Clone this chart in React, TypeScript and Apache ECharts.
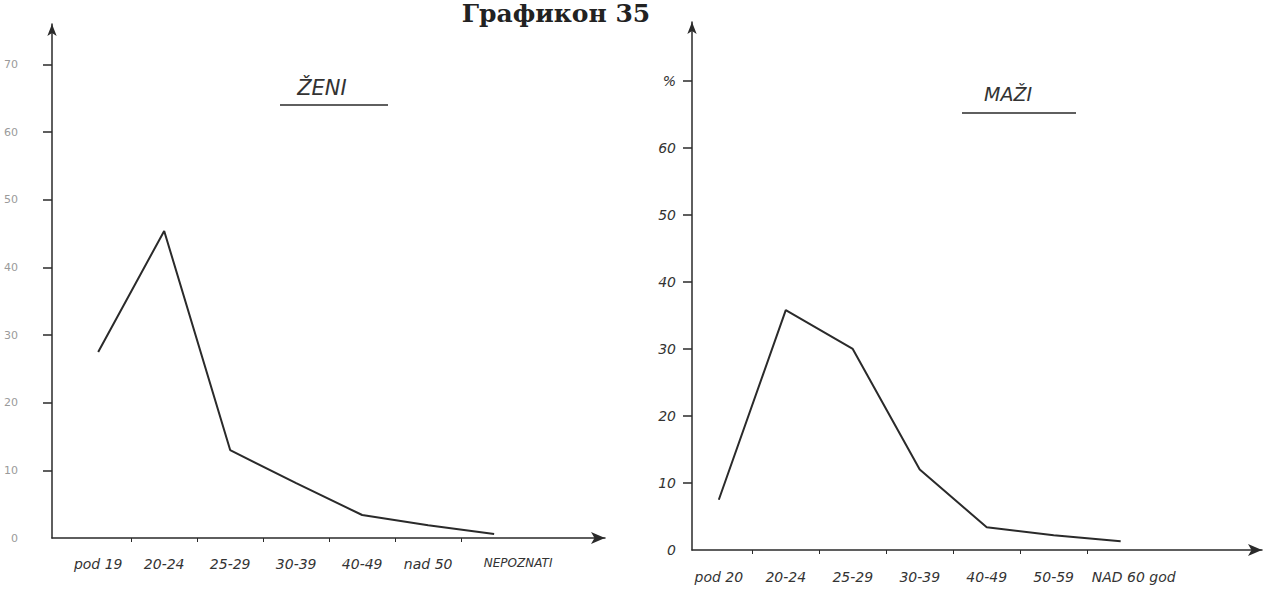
import React, { useEffect, useRef } from "react";
import * as echarts from "echarts";

const womenCategories = ["pod 19", "20-24", "25-29", "30-39", "40-49", "nad 50", "NEPOZNATI"];
const womenValues = [27.5, 45.4, 13.0, 8.1, 3.4, 1.9, 0.6];

const menCategories = ["pod 20", "20-24", "25-29", "30-39", "40-49", "50-59", "NAD 60 god"];
const menValues = [7.5, 35.8, 30.0, 12.0, 3.4, 2.2, 1.3];

const womenYTicks = [10, 20, 30, 40, 50, 60, 70];
const womenYLabels = [0, 10, 20, 30, 40, 50, 60, 70];
const menYTicks = [10, 20, 30, 40, 50, 60, 70];
const menYLabels = [0, 10, 20, 30, 40, 50, 60, 70];
const menUnitLabel = "%";

const chartTitle = "Графикон 35";
const womenTitle = "ŽENI";
const menTitle = "MAŽI";

const ink = "#2a2a2a";
const hand = "'DejaVu Sans', sans-serif";

export default function App() {
  const ref = useRef<HTMLDivElement>(null);

  useEffect(() => {
    if (!ref.current) return;
    const chart = echarts.init(ref.current, undefined, { renderer: "svg" });
    const idx = (arr: string[]) => arr.map((_, i) => i);
    const mids = (arr: string[]) => arr.slice(0, -1).map((_, i) => i + 0.5);

    const xAxisBase = (
      gridIndex: number,
      min: number,
      max: number,
      cats: string[],
      margin: number,
      lastSize: number,
      lastPad: number
    ) => ({
      type: "value",
      gridIndex,
      min,
      max,
      splitLine: { show: false },
      axisLine: {
        onZero: false,
        symbol: ["none", "arrow"],
        symbolSize: [9, 14],
        lineStyle: { color: ink, width: 1.5 },
      },
      axisTick: { show: true, customValues: mids(cats), length: 4, lineStyle: { color: ink } },
      axisLabel: {
        customValues: idx(cats),
        formatter: (v: number) => {
          const i = Math.round(v);
          const t = cats[i] ?? "";
          return i === cats.length - 1 ? `{last|${t}}` : t;
        },
        margin,
        fontStyle: "italic",
        fontSize: 14,
        color: "#333",
        fontFamily: hand,
        hideOverlap: false,
        rich: {
          last: {
            fontSize: lastSize,
            fontStyle: "italic",
            color: "#333",
            fontFamily: hand,
            padding: [0, 0, 0, lastPad],
          },
        },
      },
    });

    const option: any = {
      animation: false,
      backgroundColor: "#ffffff",
      textStyle: { fontFamily: hand },
      grid: [
        { left: 52, top: 24, width: 553, height: 514 },
        { left: 692, top: 22, width: 570, height: 528 },
      ],
      xAxis: [
        xAxisBase(0, -0.7, 7.68, womenCategories, 19, 12, 48),
        xAxisBase(1, -0.4, 8.11, menCategories, 20, 14, 26),
      ],
      yAxis: [
        {
          type: "value",
          gridIndex: 0,
          min: 0,
          max: 76,
          splitLine: { show: false },
          axisLine: {
            onZero: false,
            symbol: ["none", "arrow"],
            symbolSize: [7, 12],
            lineStyle: { color: ink, width: 1.5 },
          },
          axisTick: { customValues: womenYTicks, length: 9, lineStyle: { color: ink, width: 1.5 } },
          axisLabel: {
            customValues: womenYLabels,
            margin: 34,
            fontSize: 11,
            color: "#9a9a9a",
            fontFamily: hand,
          },
        },
        {
          type: "value",
          gridIndex: 1,
          min: 0,
          max: 78.8,
          splitLine: { show: false },
          axisLine: {
            onZero: false,
            symbol: ["none", "arrow"],
            symbolSize: [7, 12],
            lineStyle: { color: ink, width: 1.5 },
          },
          axisTick: { customValues: menYTicks, length: 9, lineStyle: { color: ink, width: 1.5 } },
          axisLabel: {
            customValues: menYLabels,
            formatter: (v: number) => (v === 70 ? menUnitLabel : String(v)),
            margin: 16,
            fontSize: 14,
            fontStyle: "italic",
            color: "#333",
            fontFamily: hand,
          },
        },
      ],
      series: [
        {
          type: "line",
          xAxisIndex: 0,
          yAxisIndex: 0,
          data: womenValues.map((v, i) => [i, v]),
          symbol: "none",
          lineStyle: { color: ink, width: 2 },
        },
        {
          type: "line",
          xAxisIndex: 1,
          yAxisIndex: 1,
          data: menValues.map((v, i) => [i, v]),
          symbol: "none",
          lineStyle: { color: ink, width: 2 },
        },
      ],
      graphic: [
        {
          type: "text",
          x: 556,
          y: 1,
          style: {
            text: chartTitle,
            font: "bold 25px 'DejaVu Serif', serif",
            fill: "#222",
            textAlign: "center",
            textVerticalAlign: "top",
          },
        },
        {
          type: "text",
          x: 322,
          y: 88,
          style: {
            text: womenTitle,
            font: "italic 21px 'DejaVu Sans', sans-serif",
            fill: "#333",
            textAlign: "center",
            textVerticalAlign: "middle",
          },
        },
        { type: "line", shape: { x1: 280, y1: 105, x2: 388, y2: 105 }, style: { stroke: ink, lineWidth: 1.5 } },
        {
          type: "text",
          x: 1008,
          y: 94,
          style: {
            text: menTitle,
            font: "italic 19px 'DejaVu Sans', sans-serif",
            fill: "#333",
            textAlign: "center",
            textVerticalAlign: "middle",
          },
        },
        { type: "line", shape: { x1: 962, y1: 113, x2: 1076, y2: 113 }, style: { stroke: ink, lineWidth: 1.5 } },
      ],
    };

    chart.setOption(option);
    return () => chart.dispose();
  }, []);

  return (
    <div
      ref={ref}
      style={{ position: "fixed", left: 0, top: 0, width: 1274, height: 609 }}
    />
  );
}
